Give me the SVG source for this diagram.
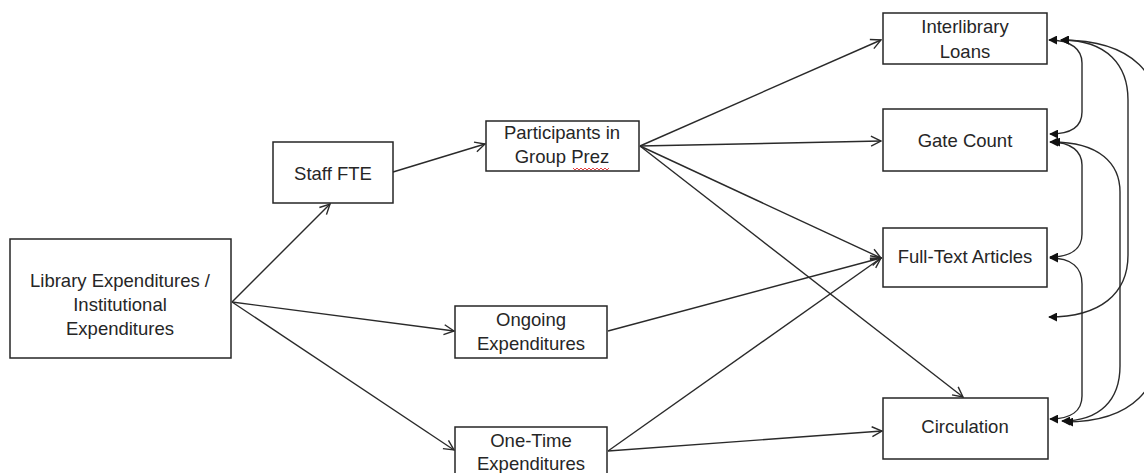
<svg xmlns="http://www.w3.org/2000/svg" width="1144" height="473" viewBox="0 0 1144 473">
  <style>
    .box { fill: #ffffff; stroke: #262626; stroke-width: 1.5; }
    .lbl { font-family: "Liberation Sans", Arial, sans-serif; font-size: 18.5px; fill: #262626; text-anchor: middle; }
    .link { fill: none; stroke: #2a2a2a; stroke-width: 1.4; marker-end: url(#open); }
    .corr { fill: none; stroke: #2a2a2a; stroke-width: 1.4; marker-start: url(#solid); marker-end: url(#solid); }
  </style>
  <defs>
    <marker id="open" viewBox="0 0 12 12" refX="11" refY="6" markerWidth="12" markerHeight="12" markerUnits="userSpaceOnUse" orient="auto">
      <path d="M1,1 L11,6 L1,11" fill="none" stroke="#2a2a2a" stroke-width="1.4"/>
    </marker>
    <marker id="solid" viewBox="0 0 10 10" refX="9" refY="5" markerWidth="9" markerHeight="9" markerUnits="userSpaceOnUse" orient="auto-start-reverse">
      <path d="M0,0 L10,5 L0,10 Z" fill="#111111"/>
    </marker>
  </defs>

  <rect width="1144" height="473" fill="#ffffff"/>

  <!-- directed paths -->
  <g id="connectors">
    <line class="link" x1="232" y1="302" x2="330" y2="204"/>
    <line class="link" x1="232" y1="302" x2="454" y2="331"/>
    <line class="link" x1="232" y1="302" x2="454" y2="450"/>
    <line class="link" x1="393" y1="172" x2="485" y2="144"/>
    <line class="link" x1="640" y1="146" x2="881" y2="40"/>
    <line class="link" x1="640" y1="146" x2="881" y2="141"/>
    <line class="link" x1="640" y1="146" x2="881" y2="258"/>
    <line class="link" x1="640" y1="146" x2="963" y2="397"/>
    <line class="link" x1="608" y1="331" x2="881" y2="258"/>
    <line class="link" x1="608" y1="451" x2="881" y2="258"/>
    <line class="link" x1="608" y1="451" x2="882" y2="431"/>

    <!-- correlations between outcomes -->
    <path class="corr" d="M1049,40 C1072,40 1082,50 1082,63 L1082,112 C1082,126 1072,134 1050,134"/>
    <path class="corr" d="M1050,142 C1072,142 1082,152 1082,165 L1082,234 C1082,248 1072,257 1050,257"/>
    <path class="corr" d="M1050,258 C1072,258 1082,268 1082,284 L1082,396 C1082,410 1072,419 1050,419"/>
    <path class="corr" d="M1061,40 C1108,40 1128,66 1128,100 L1128,255 C1128,294 1100,317 1049,317"/>
    <path class="corr" d="M1052,142 C1100,142 1120,164 1120,192 L1120,366 C1120,400 1100,421 1062,421"/>
    <path class="corr" d="M1061,40 C1132,40 1164,72 1164,140 L1164,322 C1164,392 1130,422 1065,422"/>
  </g>

  <g id="library-expenditures">
    <rect class="box" x="10" y="239" width="221" height="119"/>
    <text class="lbl" x="120" y="287">Library Expenditures /</text>
    <text class="lbl" x="120" y="311">Institutional</text>
    <text class="lbl" x="120" y="335">Expenditures</text>
  </g>

  <g id="staff-fte">
    <rect class="box" x="273" y="142" width="120" height="61"/>
    <text class="lbl" x="333" y="179.5">Staff FTE</text>
  </g>

  <g id="participants">
    <rect class="box" x="486" y="121" width="153" height="50"/>
    <text class="lbl" x="562" y="139">Participants in</text>
    <text class="lbl" x="562" y="163">Group Prez</text>
    <polyline points="573,168 575,170 577,168 579,170 581,168 583,170 585,168 587,170 589,168 591,170 593,168 595,170 597,168 599,170 601,168 603,170 605,168 607,170 609,168" fill="none" stroke="#e03030" stroke-width="0.9"/>
  </g>

  <g id="ongoing-expenditures">
    <rect class="box" x="455" y="306" width="152" height="52"/>
    <text class="lbl" x="531" y="326">Ongoing</text>
    <text class="lbl" x="531" y="350">Expenditures</text>
  </g>

  <g id="one-time-expenditures">
    <rect class="box" x="455" y="427" width="152" height="60"/>
    <text class="lbl" x="531" y="447">One-Time</text>
    <text class="lbl" x="531" y="470">Expenditures</text>
  </g>

  <g id="interlibrary-loans">
    <rect class="box" x="883" y="13" width="164" height="51"/>
    <text class="lbl" x="965" y="33">Interlibrary</text>
    <text class="lbl" x="965" y="58">Loans</text>
  </g>

  <g id="gate-count">
    <rect class="box" x="883" y="109" width="164" height="62"/>
    <text class="lbl" x="965" y="146.5">Gate Count</text>
  </g>

  <g id="full-text-articles">
    <rect class="box" x="883" y="228" width="164" height="59"/>
    <text class="lbl" x="965" y="263">Full-Text Articles</text>
  </g>

  <g id="circulation">
    <rect class="box" x="883" y="398" width="165" height="61"/>
    <text class="lbl" x="965" y="433">Circulation</text>
  </g>
</svg>
